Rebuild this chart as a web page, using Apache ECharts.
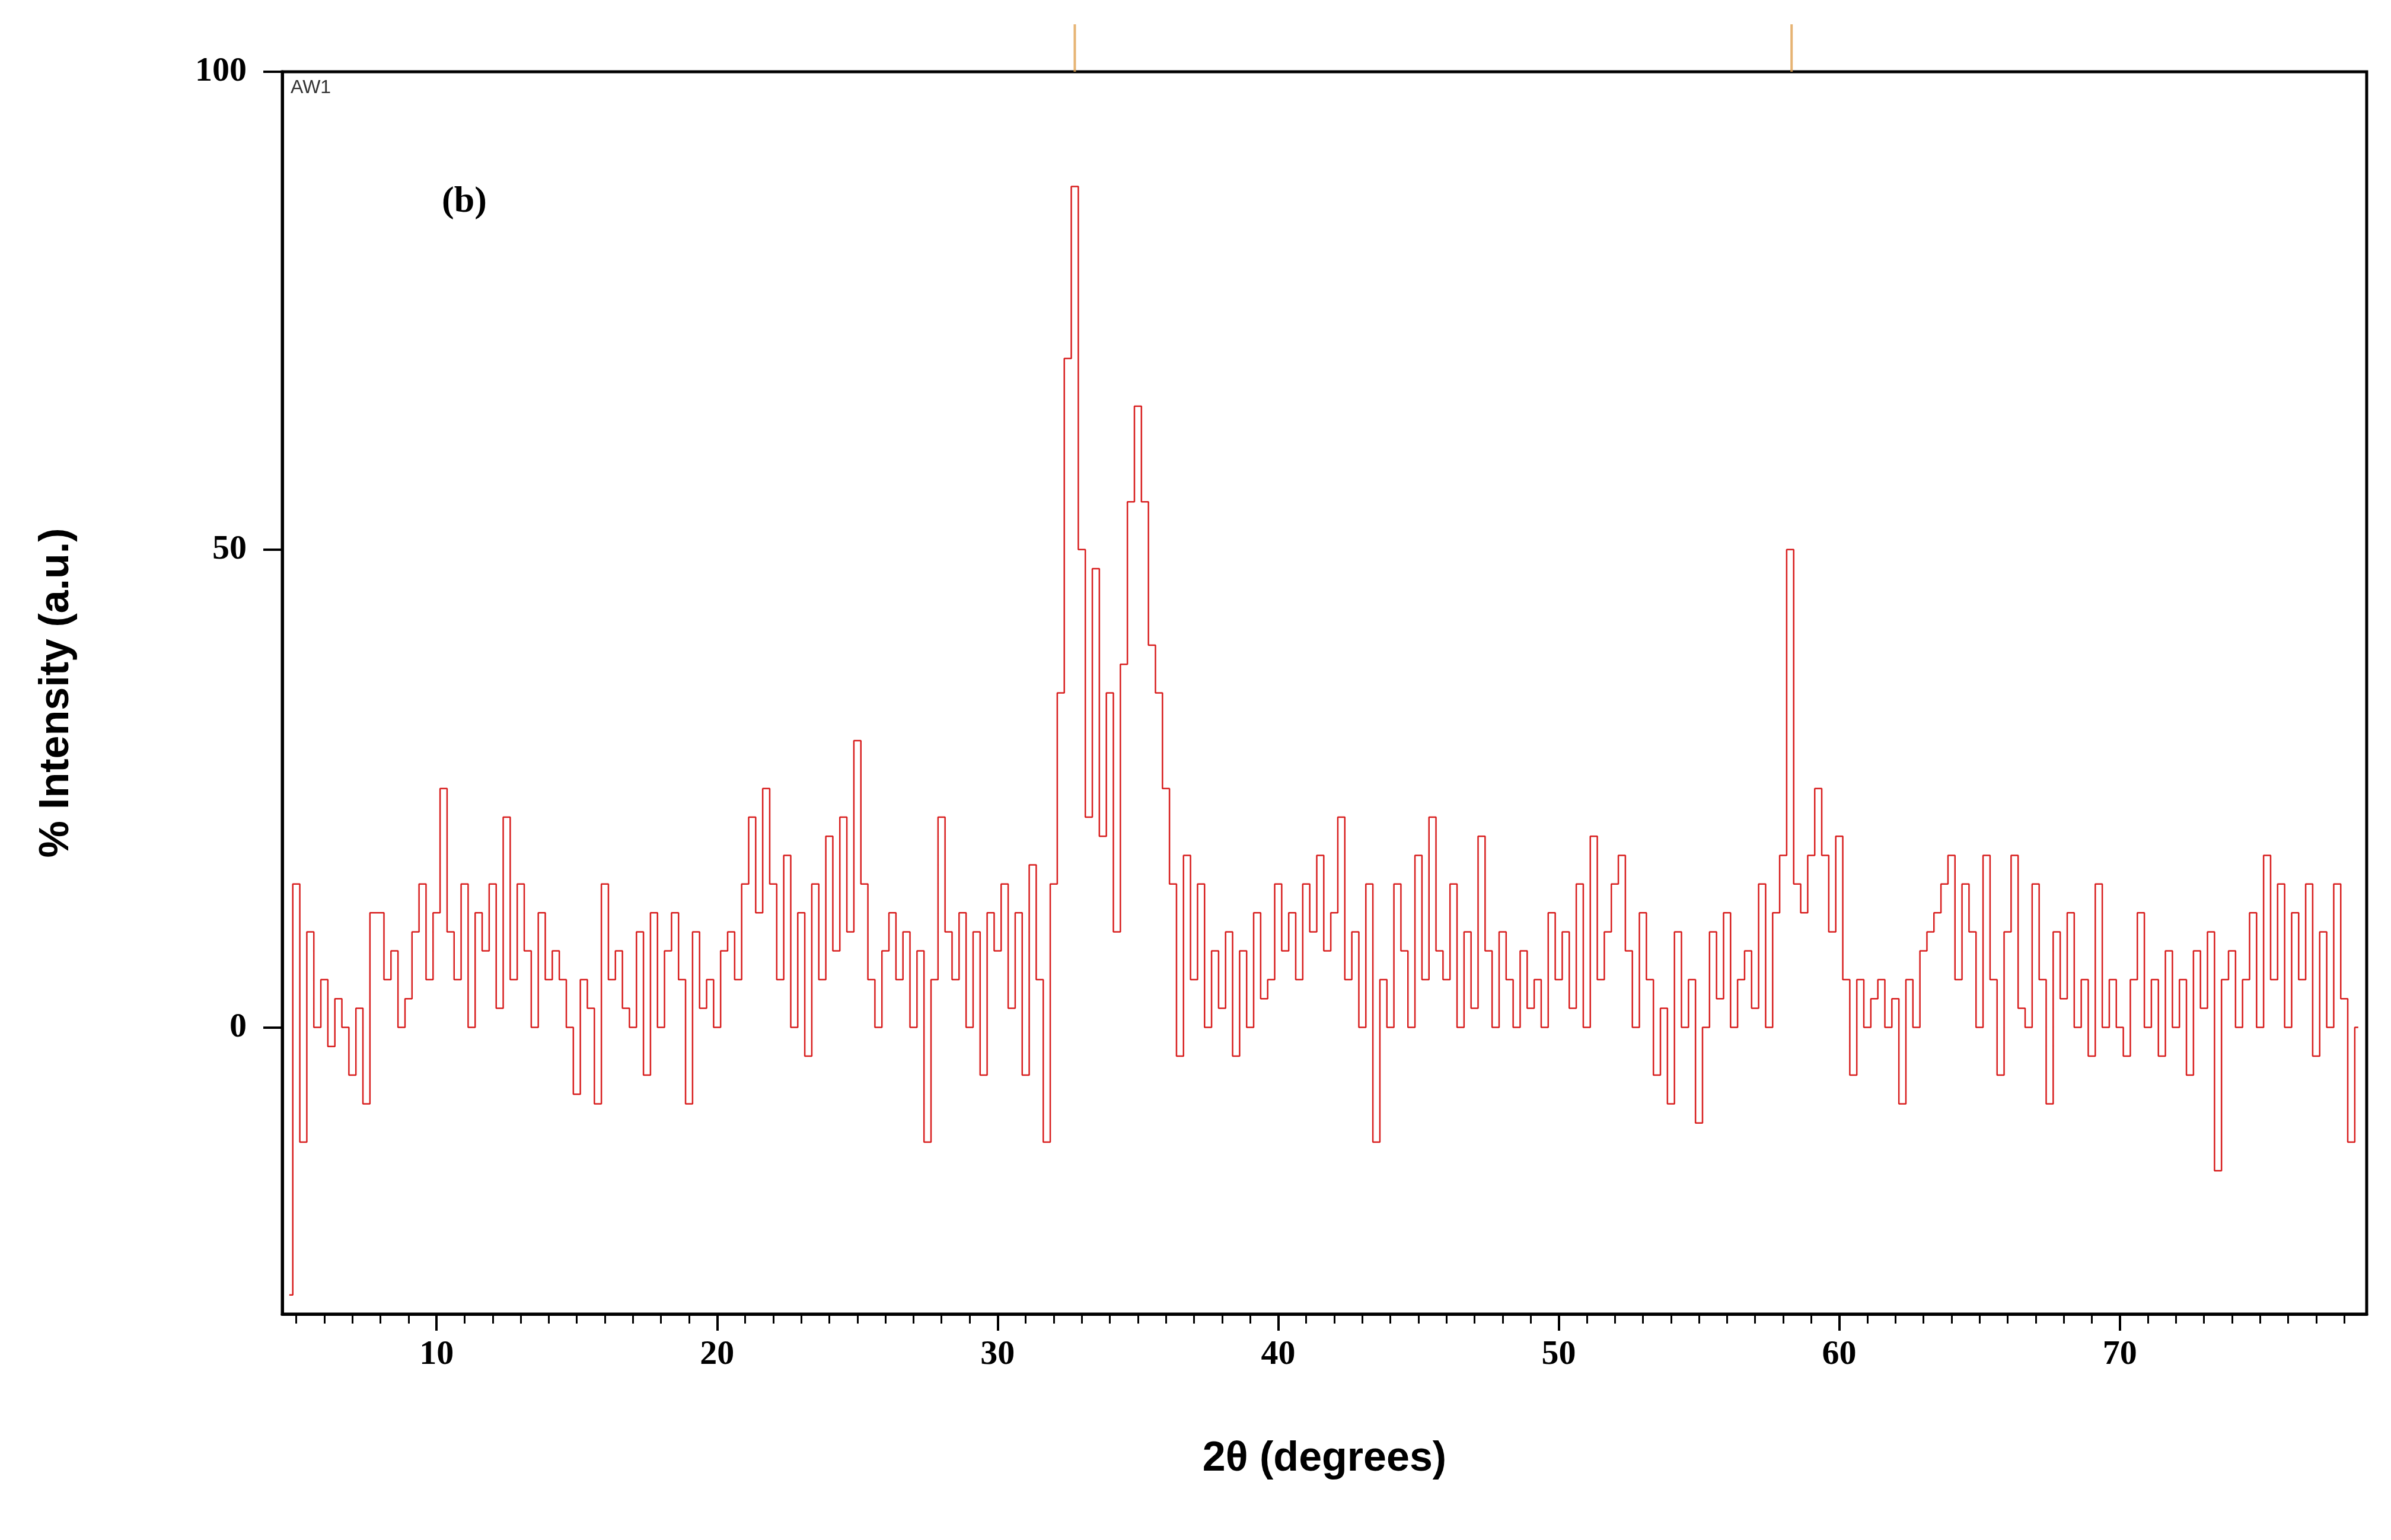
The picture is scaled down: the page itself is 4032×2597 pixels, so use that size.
<!DOCTYPE html>
<html><head><meta charset="utf-8">
<script src="https://cdn.jsdelivr.net/npm/echarts@6/dist/echarts.min.js"></script>
<style>html,body{margin:0;padding:0;background:#fff}#c{width:4032px;height:2597px}</style>
</head><body><div id="c"></div>
<script>
const startAngle = 4.75;
const angleStep = 0.25;
const intensity = [
 -28,15,-12,10,0,5,-2,3,0,-5,2,-8,12,
 12,5,8,0,3,10,15,5,
 12,25,10,5,15,0,12,8,
 15,2,22,5,15,8,0,12,
 5,8,5,0,-7,5,2,-8,
 15,5,8,2,0,10,-5,12,
 0,8,12,5,-8,10,2,5,
 0,8,10,5,15,22,12,25,
 15,5,18,0,12,-3,15,5,
 20,8,22,10,30,15,5,0,
 8,12,5,10,0,8,-12,5,
 22,10,5,12,0,10,-5,12,
 8,15,2,12,-5,17,5,-12,
 15,35,70,88,50,22,48,20,35,10,38,55,65,55,40,35,25,15,-3,18,5,15,0,8,
 2,10,-3,8,0,12,3,5,
 15,8,12,5,15,10,18,8,
 12,22,5,10,0,15,-12,5,
 0,15,8,0,18,5,22,8,
 5,15,0,10,2,20,8,0,
 10,5,0,8,2,5,0,12,
 5,10,2,15,0,20,5,10,
 15,18,8,0,12,5,-5,2,
 -8,10,0,5,-10,0,10,3,
 12,0,5,8,2,15,0,12,
 18,50,15,12,18,25,18,10,
 20,5,-5,5,0,3,5,0,
 3,-8,5,0,8,10,12,15,
 18,5,15,10,0,18,5,-5,
 10,18,2,0,15,5,-8,10,
 3,12,0,5,-3,15,0,5,
 0,-3,5,12,0,5,-3,8,
 0,5,-5,8,2,10,-15,5,
 8,0,5,12,0,18,5,15,
 0,12,5,15,-3,10,0,15,
 3,-12,0
];
const refPeaks = [32.75, 58.3];
const xLabels = [10,20,30,40,50,60,70];
const yLabels = [0,50,100];

const data = intensity.map((v,i)=>[startAngle + i*angleStep, v]);
const minorTicks = []; for (let t=5;t<=78;t++) minorTicks.push(t);
const serif = 'Liberation Serif';
const chart = echarts.init(document.getElementById('c'));
chart.setOption({
  animation:false,
  backgroundColor:'#fff',
  grid:{left:476,right:41,top:121,bottom:381,show:true,borderColor:'#000',borderWidth:5},
  xAxis:[{
    type:'value',min:4.5,max:78.8,
    name:'2θ (degrees)',nameLocation:'middle',nameGap:210,
    nameTextStyle:{fontFamily:'Liberation Sans',fontWeight:'bold',fontSize:70,color:'#000'},
    axisLine:{onZero:false,lineStyle:{color:'#000',width:5}},
    splitLine:{show:false},
    axisTick:{customValues:xLabels,length:28,lineStyle:{color:'#000',width:4}},
    axisLabel:{customValues:xLabels,fontFamily:serif,fontWeight:'bold',fontSize:58,color:'#000',margin:40}
  },{
    type:'value',min:4.5,max:78.8,position:'bottom',
    axisLine:{show:false,onZero:false},splitLine:{show:false},
    axisTick:{customValues:minorTicks,length:16,lineStyle:{color:'#000',width:3}},
    axisLabel:{show:false}
  }],
  yAxis:{
    type:'value',min:-30,max:100,
    name:'% Intensity (a.u.)',nameLocation:'middle',nameGap:345,
    nameTextStyle:{fontFamily:'Liberation Sans',fontWeight:'bold',fontSize:70,color:'#000'},
    axisLine:{show:true,onZero:false,lineStyle:{color:'#000',width:5}},
    splitLine:{show:false},
    axisTick:{customValues:yLabels,length:32,lineStyle:{color:'#000',width:4}},
    axisLabel:{customValues:yLabels,fontFamily:serif,fontWeight:'bold',fontSize:58,color:'#000',margin:60}
  },
  graphic:[
    {type:'text',left:490,top:132,style:{text:'AW1',font:'32px "Liberation Sans"',fill:'#333'}},
    {type:'text',left:745,top:310,style:{text:'(b)',font:'bold 62px "Liberation Serif"',fill:'#000'}}
  ],
  series:[{
    type:'line',data:data,step:'middle',showSymbol:false,
    lineStyle:{color:'#d81e1e',width:2.5}
  },{
    type:'scatter',data:refPeaks.map(p=>[p,100]),symbol:'rect',symbolSize:[4,80],
    symbolOffset:[0,-40],clip:false,itemStyle:{color:'#e0a050'},silent:true
  }]
});
</script></body></html>
